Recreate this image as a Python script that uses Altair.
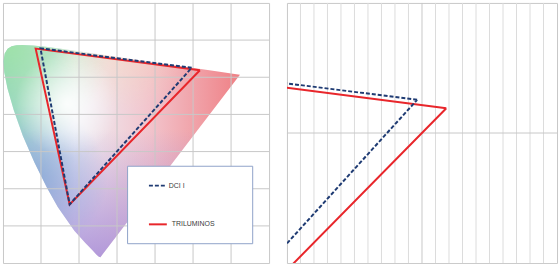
import altair as alt
import pandas as pd

# CIE 1976 u'v' spectral locus (380 nm ... 700 nm)
locus_u = [0.2568, 0.2563, 0.2522, 0.2461, 0.2347, 0.2161, 0.1877, 0.1441, 0.1147, 0.0828,
           0.0521, 0.0282, 0.0119, 0.0035, 0.0014, 0.0046, 0.0123, 0.0231, 0.0360, 0.0501,
           0.0792, 0.1127, 0.1531, 0.2026, 0.2623, 0.3315, 0.4035, 0.4692, 0.5203, 0.5565,
           0.5830, 0.6005, 0.6234]
locus_v = [0.0166, 0.0159, 0.0169, 0.0226, 0.0350, 0.0549, 0.0871, 0.1510, 0.2044, 0.2708,
           0.3427, 0.4117, 0.4698, 0.5131, 0.5432, 0.5638, 0.5770, 0.5837, 0.5861, 0.5868,
           0.5856, 0.5821, 0.5766, 0.5694, 0.5604, 0.5501, 0.5393, 0.5296, 0.5219, 0.5165,
           0.5125, 0.5099, 0.5065]

# gamut triangles (R, G, B, back to R)
dci_u = [0.4964, 0.0986, 0.1754, 0.4964]
dci_v = [0.5255, 0.5777, 0.1579, 0.5255]
tri_u = [0.5180, 0.0860, 0.1754, 0.5180]
tri_v = [0.5190, 0.5770, 0.1579, 0.5190]

series_names = ["DCI I", "TRILUMINOS"]

left_grid = [0.1, 0.2, 0.3, 0.4, 0.5, 0.6]
right_minor = [0.41, 0.42, 0.43, 0.44, 0.45, 0.46, 0.47, 0.48, 0.49,
               0.51, 0.52, 0.53, 0.54, 0.55, 0.56, 0.57, 0.58, 0.59]
right_major = [0.5]

locus_df = pd.DataFrame({"u": locus_u, "v": locus_v, "i": list(range(len(locus_u)))})
dci_df = pd.DataFrame({"u": dci_u, "v": dci_v, "i": list(range(len(dci_u)))})
tri_df = pd.DataFrame({"u": tri_u, "v": tri_v, "i": list(range(len(tri_u)))})

NAVY = "#1f3b73"
RED = "#e8262b"
GRID = "#c8c8c8"


def S(t):
    return alt.GradientStop(color=t[0], offset=t[1])


def lin(stops, x1, y1, x2, y2):
    return alt.LinearGradient(gradient="linear", stops=[S(s) for s in stops],
                              x1=x1, y1=y1, x2=x2, y2=y2)


def rad(stops, x, y, r):
    return alt.RadialGradient(gradient="radial", stops=[S(s) for s in stops],
                              x1=x, y1=y, r1=0, x2=x, y2=y, r2=r)


fills = [
    lin([("#8fd0c6", 0), ("#eef0f6", 0.3), ("#f2c4cc", 0.62), ("#ef8085", 1)], 0, 0.5, 1, 0.5),
    lin([("rgba(165,140,215,0)", 0), ("rgba(165,140,215,0)", 0.4),
         ("rgba(168,140,215,0.85)", 1)], 0.5, 0, 0.5, 1),
    rad([("rgba(125,160,215,0.7)", 0), ("rgba(125,160,215,0)", 1)], 0.12, 0.62, 0.32),
    rad([("rgba(160,228,165,0.85)", 0), ("rgba(160,228,165,0)", 1)], 0.03, 0.06, 0.42),
    rad([("rgba(246,222,185,0.5)", 0), ("rgba(246,222,185,0)", 1)], 0.5, 0.03, 0.3),
    rad([("rgba(255,255,255,0.9)", 0), ("rgba(255,255,255,0)", 1)], 0.27, 0.3, 0.22),
]


def panel(dom, w, h, show_fill, minor, major):
    xs = alt.Scale(domain=dom, nice=False, zero=False)
    ys = alt.Scale(domain=dom, nice=False, zero=False)
    X = alt.X("u:Q", scale=xs, axis=None)
    Y = alt.Y("v:Q", scale=ys, axis=None)
    layers = []
    if show_fill:
        for f in fills:
            layers.append(alt.Chart(locus_df).mark_line(fill=f, strokeOpacity=0).encode(
                x=X, y=Y, order="i:O"))
    if minor:
        layers.append(alt.Chart(pd.DataFrame({"g": minor})).mark_rule(
            color="#dcdcdc", strokeWidth=1).encode(x=alt.X("g:Q", scale=xs, axis=None)))
    gv = pd.DataFrame({"g": major})
    layers.append(alt.Chart(gv).mark_rule(color=GRID, strokeWidth=1).encode(
        x=alt.X("g:Q", scale=xs, axis=None)))
    layers.append(alt.Chart(gv).mark_rule(color=GRID, strokeWidth=1).encode(
        y=alt.Y("g:Q", scale=ys, axis=None)))
    layers.append(alt.Chart(tri_df).mark_line(color=RED, strokeWidth=2, clip=True).encode(
        x=X, y=Y, order="i:O"))
    layers.append(alt.Chart(dci_df).mark_line(color=NAVY, strokeWidth=2,
                                              strokeDash=[4, 2], clip=True).encode(
        x=X, y=Y, order="i:O"))
    return layers, w, h


left_layers, lw, lh = panel([0, 0.7], 268, 262, True, None, left_grid)

one = pd.DataFrame({"k": [0]})
legend_layers = [
    alt.Chart(one).mark_rect(fill="white", stroke="#8fa2c9", strokeWidth=1).encode(
        x=alt.value(125.5), x2=alt.value(251.5), y=alt.value(164.5), y2=alt.value(242.5)),
    alt.Chart(one).mark_rule(color=NAVY, strokeWidth=2, strokeDash=[4, 2]).encode(
        x=alt.value(147), x2=alt.value(164), y=alt.value(184)),
    alt.Chart(one).mark_rule(color=RED, strokeWidth=2).encode(
        x=alt.value(147), x2=alt.value(165), y=alt.value(223)),
    alt.Chart(pd.DataFrame({"t": [series_names[0]]})).mark_text(
        align="left", baseline="middle", font="Liberation Sans", fontSize=7,
        color="#3a3a3a").encode(x=alt.value(167), y=alt.value(184), text="t:N"),
    alt.Chart(pd.DataFrame({"t": [series_names[1]]})).mark_text(
        align="left", baseline="middle", font="Liberation Sans", fontSize=7,
        color="#3a3a3a").encode(x=alt.value(170), y=alt.value(223), text="t:N"),
]

left = alt.layer(*left_layers, *legend_layers).properties(width=lw, height=lh)

right_layers, rw, rh = panel([0.4, 0.6], 272, 262, False, right_minor, right_major)
right = alt.layer(*right_layers).properties(width=rw, height=rh)

chart = alt.hconcat(left, right, spacing=16).properties(
    padding={"left": 2, "top": 1, "right": 2, "bottom": 1},
    background="white",
).configure_view(stroke=GRID, strokeWidth=1).resolve_scale(x="independent", y="independent")

chart.save("out.html", embed_options={"renderer": "svg", "actions": False})
